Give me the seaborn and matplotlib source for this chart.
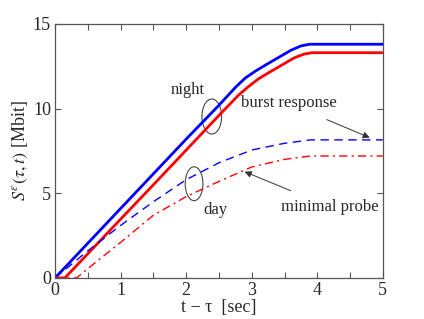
import matplotlib
matplotlib.use("Agg")
import matplotlib.pyplot as plt
import numpy as np
import pandas as pd
import seaborn as sns
from matplotlib.patches import Ellipse

# night, burst response (blue solid)
night_burst_x = [0.0, 0.5, 1.0, 1.5, 2.0, 2.5, 2.75, 2.9, 3.05, 3.2, 3.4, 3.6, 3.75, 3.88, 5.0]
night_burst_y = [0.0, 2.05, 4.1, 6.15, 8.2, 10.2, 11.25, 11.8, 12.2, 12.55, 13.0, 13.45, 13.7, 13.8, 13.8]
# night, minimal probe (red solid)
night_probe_x = [0.0, 0.15, 0.5, 1.0, 1.5, 2.0, 2.5, 2.8, 2.95, 3.1, 3.25, 3.45, 3.65, 3.8, 3.92, 5.0]
night_probe_y = [0.0, 0.0, 1.43, 3.47, 5.5, 7.55, 9.6, 10.8, 11.3, 11.75, 12.1, 12.55, 13.0, 13.22, 13.3, 13.3]
# day, burst response (blue dashed)
day_burst_x = [0.0, 0.5, 1.0, 1.5, 2.0, 2.5, 3.0, 3.5, 3.9, 5.0]
day_burst_y = [0.0, 1.6, 3.1, 4.5, 5.8, 6.8, 7.55, 7.95, 8.15, 8.15]
# day, minimal probe (red dash-dot)
day_probe_x = [0.0, 0.33, 0.5, 1.0, 1.5, 2.0, 2.5, 3.0, 3.5, 3.9, 5.0]
day_probe_y = [0.0, 0.0, 0.55, 2.1, 3.7, 4.8, 5.7, 6.55, 7.0, 7.2, 7.2]

sns.set_style("ticks")
plt.rcParams["font.family"] = ["Liberation Serif", "DejaVu Serif"]
plt.rcParams["mathtext.fontset"] = "stix"
plt.rcParams["font.size"] = 11

fig = plt.figure(figsize=(4.24, 3.19), dpi=100)
ax = fig.add_axes([0.130, 0.129, 0.773, 0.796])

sns.lineplot(x=night_burst_x, y=night_burst_y, ax=ax, color="#0000ff", lw=2)
sns.lineplot(x=night_probe_x, y=night_probe_y, ax=ax, color="#ff0000", lw=2)
sns.lineplot(x=day_burst_x, y=day_burst_y, ax=ax, color="#0000ff", lw=1,
             linestyle=(0, (6, 4)))
sns.lineplot(x=day_probe_x, y=day_probe_y, ax=ax, color="#ff0000", lw=1,
             linestyle=(0, (6, 3, 1.5, 3)))

ax.set_xlim(0, 5)
ax.set_ylim(0, 15)
ax.set_xticks(np.arange(0, 5.01, 0.5))
ax.set_xticklabels([str(int(v)) if v == int(v) else "" for v in np.arange(0, 5.01, 0.5)])
ax.set_yticks([0, 5, 10, 15])
ax.tick_params(direction="in", length=4, width=0.8, color="#555555",
               top=True, right=True, labelsize=13, pad=3)
for s in ax.spines.values():
    s.set_visible(True)
    s.set_color("#555555")
    s.set_linewidth(0.9)

ax.set_xlabel("t \u2212 \u03c4  [sec]", fontsize=13, labelpad=0)
ax.set_ylabel(r"$S^{\varepsilon}(\tau,t)$ [Mbit]", fontsize=13, labelpad=2)

# ellipses grouping curves
ax.add_patch(Ellipse((2.39, 9.53), 0.30, 2.07, fill=False, ec="#444444", lw=0.8))
ax.add_patch(Ellipse((2.12, 5.56), 0.27, 2.0, fill=False, ec="#444444", lw=0.8))
ax.text(2.02, 11.1, "night", ha="center", va="center", fontsize=12)
ax.text(2.44, 4.0, "day", ha="center", va="center", fontsize=12)

ax.annotate("burst response", xy=(4.8, 8.28), xytext=(3.56, 10.3),
            ha="center", va="center", fontsize=12,
            arrowprops=dict(arrowstyle="-|>", color="#333333", lw=0.7,
                            shrinkA=9, shrinkB=0, mutation_scale=10))
ax.annotate("minimal probe", xy=(2.89, 6.27), xytext=(4.19, 4.2),
            ha="center", va="center", fontsize=12,
            arrowprops=dict(arrowstyle="-|>", color="#333333", lw=0.7,
                            shrinkA=9, shrinkB=0, mutation_scale=10))

fig.savefig("out.png", dpi=100)
